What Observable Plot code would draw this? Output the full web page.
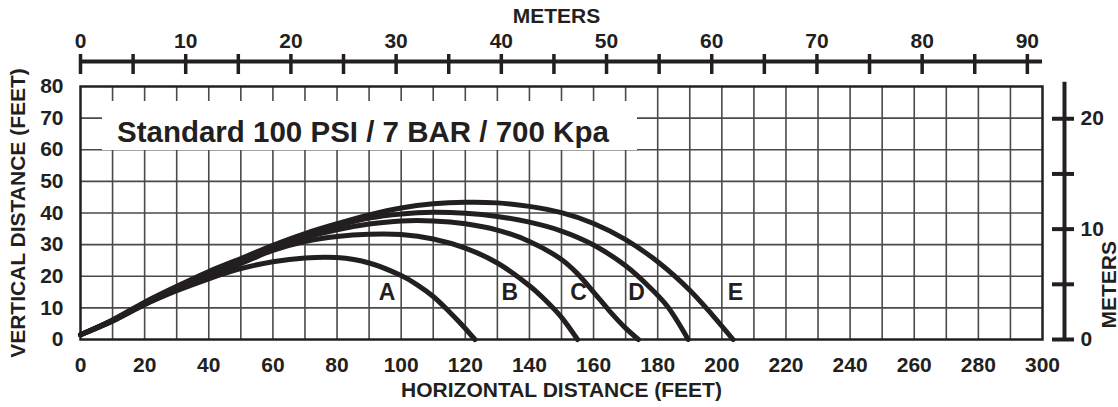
<!DOCTYPE html>
<html>
<head>
<meta charset="utf-8">
<script src="https://cdn.jsdelivr.net/npm/d3@7"></script>
<script src="https://cdn.jsdelivr.net/npm/@observablehq/plot@0.6"></script>
<style>
  html, body { margin: 0; padding: 0; background: #fff; }
  #wrap { position: relative; width: 1118px; height: 407px; }
  #wrap svg { position: absolute; left: 0; top: 0; }
  #titlebox { position: absolute; left: 102px; top: 101px; width: 535px; height: 49px; background: #fff; }
  #titlebox span { position: absolute; left: 15px; top: 14px; line-height: 29.5px; white-space: nowrap;
    font: bold 29.5px "Liberation Sans", Arial, Helvetica, sans-serif; color: #231f20; }
</style>
</head>
<body>
<div id="wrap"><div id="titlebox"><span>Standard 100 PSI / 7 BAR / 700 Kpa</span></div></div>
<script>
// ---------- data ----------
const titleText = "Standard 100 PSI / 7 BAR / 700 Kpa";
const xTickLabels = [0, 20, 40, 60, 80, 100, 120, 140, 160, 180, 200, 220, 240, 260, 280, 300]; // feet
const yTickLabels = [0, 10, 20, 30, 40, 50, 60, 70, 80];                                           // feet
const gridXft = [10, 20, 30, 40, 50, 60, 70, 80, 90, 100, 110, 120, 130, 140, 150, 160, 170, 180, 190, 200, 210, 220, 230, 240, 250, 260, 270, 280, 290];
const gridYft = [10, 20, 30, 40, 50, 60, 70];
const meterTopTicks = [0, 5, 10, 15, 20, 25, 30, 35, 40, 45, 50, 55, 60, 65, 70, 75, 80, 85, 90];
const meterRightTicks = [0, 5, 10, 15, 20];
const meterRightTop = 23.3;
const FT_PER_M = 3.28084;      // top metre scale
const RIGHT_FT_PER_M = 3.49;   // right metre scale as drawn in the chart

const seriesNames = ["A", "B", "C", "D", "E"];
const curveA = [[0,1.5],[10,5.8],[20,11.0],[30,15.4],[40,19.2],[50,22.4],[60,24.6],[70,25.8],[80,25.9],[90,24.2],[100,20.2],[105,17.3],[110,13.6],[115,8.8],[119,4.6],[123,0]];
const curveB = [[0,1.5],[10,5.9],[20,11.2],[30,15.8],[40,19.8],[50,24.0],[60,28.2],[70,31.0],[80,32.6],[90,33.3],[100,33.2],[110,31.8],[120,28.9],[130,24.2],[140,17.0],[145,12.4],[150,7.0],[155,0]];
const curveC = [[0,1.5],[10,6.0],[20,11.4],[30,16.1],[40,20.3],[50,24.5],[60,28.8],[70,32.2],[80,34.7],[90,36.5],[100,37.5],[110,37.5],[120,36.6],[130,34.6],[140,31.0],[150,25.3],[155,20.8],[160,15.0],[165,9.0],[170,3.6],[174,0]];
const curveD = [[0,1.5],[10,6.1],[20,11.6],[30,16.4],[40,20.8],[50,25.0],[60,29.3],[70,33.0],[80,36.0],[90,38.4],[100,39.7],[110,40.2],[120,39.9],[130,38.9],[140,37.1],[150,34.3],[160,29.9],[170,23.3],[177,17.0],[183,10.5],[189.5,0]];
const curveE = [[0,1.5],[10,6.2],[20,11.8],[30,16.8],[40,21.5],[50,25.6],[60,29.8],[70,33.5],[80,36.6],[90,39.4],[100,41.6],[110,42.9],[120,43.4],[130,43.2],[140,42.1],[150,40.1],[160,36.7],[170,31.6],[180,24.6],[190,15.6],[197,7.8],[203.5,0]];
const labelX = [95.6, 133.9, 155.3, 173.4, 204.2];
const labelY = [14.8, 14.8, 14.8, 14.8, 14.8];

// ---------- build ----------
const curves = [curveA, curveB, curveC, curveD, curveE];
const lineData = curves.flatMap((c, i) => c.map(([x, y]) => ({series: seriesNames[i], x, y})));
const labelData = seriesNames.map((s, i) => ({s, x: labelX[i], y: labelY[i]}));
const ink = "#231f20";
const FONT = '"Liberation Sans", Arial, Helvetica, sans-serif';

const chart = Plot.plot({
  width: 1118,
  height: 407,
  marginLeft: 80,
  marginRight: 76,
  marginTop: 86,
  marginBottom: 68,
  x: {domain: [0, 300]},
  y: {domain: [0, 80]},
  style: {fontFamily: FONT, fontSize: "21px", fontWeight: "bold", color: ink, background: "transparent", overflow: "visible"},
  marks: [
    Plot.gridX(gridXft, {stroke: "#4a4a4a", strokeOpacity: 1, strokeWidth: 1.6}),
    Plot.gridY(gridYft, {stroke: "#4a4a4a", strokeOpacity: 1, strokeWidth: 1.6}),
    Plot.frame({stroke: ink, strokeWidth: 2.5}),
    Plot.line(lineData, {x: "x", y: "y", z: "series", stroke: ink, strokeWidth: 5, curve: "catmull-rom"}),
    Plot.text(labelData, {x: "x", y: "y", text: "s", fill: ink, fontSize: 23, fontWeight: "bold"}),
    // bottom feet axis
    Plot.axisX(xTickLabels, {anchor: "bottom", tickSize: 0, tickPadding: 18, label: null, fontSize: 21, fill: ink}),
    Plot.text([ "HORIZONTAL DISTANCE (FEET)" ], {frameAnchor: "bottom", lineAnchor: "middle", textAnchor: "middle", dy: 51, fill: ink, fontSize: 21}),
    // left feet axis
    Plot.axisY(yTickLabels, {anchor: "left", tickSize: 0, tickPadding: 17, label: null, fontSize: 21, fill: ink}),
    Plot.text([ "VERTICAL DISTANCE (FEET)" ], {frameAnchor: "left", lineAnchor: "middle", textAnchor: "middle", rotate: -90, dx: -62.5, fill: ink, fontSize: 21}),
    // top metre axis
    Plot.ruleY([80], {dy: -25, stroke: ink, strokeWidth: 4}),
    Plot.axisX(meterTopTicks.map(m => m * FT_PER_M), {
      anchor: "top", tickSize: 20, dy: -13, strokeWidth: 3.5, stroke: ink, tickPadding: 6, label: null, fontSize: 21, fill: ink,
      tickFormat: d => { const m = Math.round(d / FT_PER_M); return m % 10 ? "" : String(m); }
    }),
    Plot.text([ "METERS" ], {frameAnchor: "top", lineAnchor: "middle", textAnchor: "middle", dx: -5, dy: -70.5, fill: ink, fontSize: 21}),
    // right metre axis
    Plot.ruleX([300], {y1: 0, y2: meterRightTop * RIGHT_FT_PER_M, dx: 22, stroke: ink, strokeWidth: 4}),
    Plot.axisY(meterRightTicks.map(m => m * RIGHT_FT_PER_M), {
      anchor: "right", tickSize: 22, dx: 9, strokeWidth: 4, stroke: ink, tickPadding: 7, label: null, fontSize: 21, fill: ink,
      tickFormat: d => { const m = Math.round(d / RIGHT_FT_PER_M); return m % 10 ? "" : String(m); }
    }),
    Plot.text([ "METERS" ], {frameAnchor: "bottom-right", rotate: -90, lineAnchor: "middle", textAnchor: "start", dx: 67, dy: -11, fill: ink, fontSize: 21})
  ]
});
const wrap = document.getElementById("wrap");
wrap.insertBefore(chart, wrap.firstChild);
document.querySelector("#titlebox span").textContent = titleText;
</script>
</body>
</html>
